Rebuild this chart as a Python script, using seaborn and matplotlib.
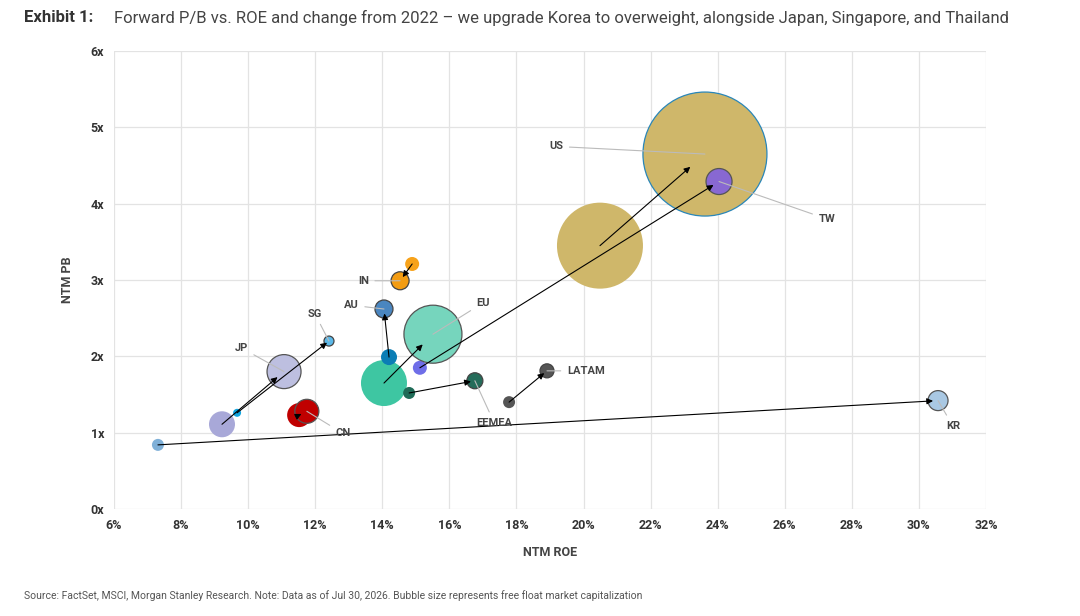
import pandas as pd
import seaborn as sns
from matplotlib import pyplot as plt
from matplotlib.ticker import FuncFormatter

sns.set_style("whitegrid")
plt.rcParams['font.family'] = ['Roboto', 'DejaVu Sans']

# market: roe/pb in 2022 and now, bubble radius (px) in 2022 and now
mk = pd.DataFrame({
    "Market": ["US", "TW", "EU", "AU", "IN", "SG", "JP", "CN", "EEMEA", "LATAM", "KR"],
    "ROE22": [20.49, 15.12, 14.05, 14.20, 14.89, 9.67, 9.22, 11.52, 14.80, 17.78, 7.31],
    "PB22": [3.45, 1.85, 1.65, 1.99, 3.21, 1.26, 1.11, 1.23, 1.52, 1.40, 0.84],
    "ROE": [23.62, 24.04, 15.51, 14.05, 14.53, 12.41, 11.07, 11.75, 16.76, 18.91, 30.57],
    "PB": [4.65, 4.29, 2.29, 2.62, 2.99, 2.20, 1.80, 1.28, 1.68, 1.81, 1.42],
    "R22": [43, 7, 23, 8, 7, 4, 13, 12, 6, 6, 6],
    "R": [62, 13, 29, 9, 9, 5, 17, 12, 8, 7, 10],
    "Col22": ["#cfb76a", "#6f6ee8", "#3ec6a2", "#0b7db5", "#f7a21a", "#12a5e0", "#a8a8d8", "#c00000", "#1f6b57", "#555555", "#7fb0d8"],
    "Col": ["#cfb76a", "#8868d2", "#76d5bd", "#4a86c0", "#f39c12", "#5bb8e8", "#bdbfe0", "#c00000", "#256c5a", "#555555", "#a9c8e3"],
    "Edge": ["#2a86b8", "#555555", "#555555", "#444444", "#444444", "#444444", "#555555", "#555555", "#444444", "#444444", "#555555"],
})
# label positions (ROE, PB) and leader line targets
labels = {
    "US": (19.4, 4.75), "TW": (27.0, 3.8), "EU": (16.8, 2.7), "AU": (13.3, 2.67),
    "IN": (13.6, 2.99), "SG": (12.2, 2.56), "JP": (10.0, 2.11), "CN": (12.6, 0.99),
    "EEMEA": (16.8, 1.13), "LATAM": (19.5, 1.81), "KR": (30.8, 1.09),
}

px = 0.72  # points per pixel at dpi 100
fig, ax = plt.subplots(figsize=(10.8, 6.16), dpi=100)
fig.subplots_adjust(left=114/1080, right=986/1080, top=1-51/616, bottom=1-509/616)

sns.scatterplot(x=mk["ROE22"], y=mk["PB22"], s=(2*mk["R22"]*px)**2, c=mk["Col22"],
                linewidth=0, ax=ax, legend=False, zorder=2)
sns.scatterplot(x=mk["ROE"], y=mk["PB"], s=(2*mk["R"]*px)**2, c=mk["Col"],
                edgecolor=mk["Edge"], linewidth=0.9, ax=ax, legend=False, zorder=3)

for _, r in mk.iterrows():
    ax.annotate("", xy=(r["ROE"], r["PB"]), xytext=(r["ROE22"], r["PB22"]),
                arrowprops=dict(arrowstyle="-|>", color="black", lw=0.8, shrinkA=0,
                                shrinkB=min(r["R"] * px * 0.5, 14), mutation_scale=9),
                zorder=4)
    lx, ly = labels[r["Market"]]
    ha = "right" if lx < r["ROE"] else "left"
    ax.annotate(r["Market"], xy=(r["ROE"], r["PB"]), xytext=(lx, ly), ha=ha, va="center",
                fontsize=8, fontweight="bold", color="#444444",
                arrowprops=dict(arrowstyle="-", color="#bbbbbb", lw=0.8, shrinkA=2, shrinkB=0),
                zorder=5)

ax.set_xlim(6, 32)
ax.set_ylim(0, 6)
ax.set_xticks(range(6, 33, 2))
ax.xaxis.set_major_formatter(FuncFormatter(lambda v, p: f"{v:.0f}%"))
ax.yaxis.set_major_formatter(FuncFormatter(lambda v, p: f"{v:.0f}x"))
ax.tick_params(labelsize=9, colors="#333333")
for t in ax.get_xticklabels() + ax.get_yticklabels():
    t.set_fontweight("bold")
ax.grid(color="#e3e3e3", lw=0.9)
for s in ax.spines.values():
    s.set_visible(False)
ax.set_xlabel("NTM ROE", fontsize=9, fontweight="bold", color="#444444", labelpad=10)
ax.set_ylabel("NTM PB", fontsize=9, fontweight="bold", color="#444444", labelpad=12)

fig.text(24/1080, 1-18/616, "Exhibit 1:", fontsize=12, fontweight="bold", color="#333333", va="center")
fig.text(114/1080, 1-18/616, "Forward P/B vs. ROE and change from 2022 \u2013 we upgrade Korea to overweight, alongside Japan, Singapore, and Thailand",
         fontsize=12, color="#444444", va="center")
fig.text(24/1080, 1-596/616, "Source: FactSet, MSCI, Morgan Stanley Research. Note: Data as of Jul 30, 2026. Bubble size represents free float market capitalization",
         fontsize=7.5, color="#555555", va="center")

plt.savefig("out.png", dpi=100)
